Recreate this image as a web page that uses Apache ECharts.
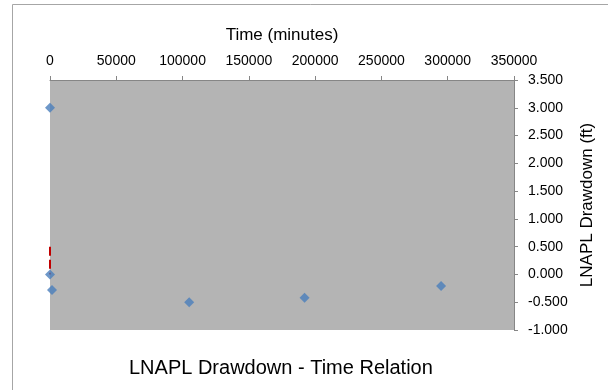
<!DOCTYPE html>
<html>
<head>
<meta charset="utf-8">
<script src="https://cdn.jsdelivr.net/npm/echarts@6/dist/echarts.min.js"></script>
<style>
html,body{margin:0;padding:0;background:#fff;}
#chart{width:608px;height:390px;}
</style>
</head>
<body>
<div id="chart"></div>
<script>
// Data
var timeMinutes = [0, 0, 1500, 105000, 192000, 295000];
var drawdownFt  = [3.0, 0.0, -0.28, -0.50, -0.42, -0.21];
var redLineTime = [0, 0];
var redLineDrawdown = [0.5, 0.0];
var xTicks = [0, 50000, 100000, 150000, 200000, 250000, 300000, 350000];
var yTicks = [-1.0, -0.5, 0.0, 0.5, 1.0, 1.5, 2.0, 2.5, 3.0, 3.5];
var chartTitle = 'LNAPL Drawdown - Time Relation';
var xTitle = 'Time (minutes)';
var yTitle = 'LNAPL Drawdown (ft)';

var FONT = "'Liberation Sans', Arial, sans-serif";
var pts = timeMinutes.map(function (t, i) { return [t, drawdownFt[i]]; });
var redPts = redLineTime.map(function (t, i) { return [t, redLineDrawdown[i]]; });

var chart = echarts.init(document.getElementById('chart'), null, {renderer: 'canvas'});
chart.setOption({
  backgroundColor: '#ffffff',
  animation: false,
  textStyle: {fontFamily: FONT},
  title: {
    text: chartTitle,
    left: 124, top: 353,
    textStyle: {fontFamily: FONT, fontSize: 20, fontWeight: 'normal', color: '#000'}
  },
  graphic: [{
    type: 'rect', silent: true, z: -1,
    shape: {x: 12.5, y: 4.5, width: 700, height: 500},
    style: {fill: 'none', stroke: '#a6a6a6', lineWidth: 1}
  }],
  grid: {
    left: 50, top: 80, width: 464, height: 250,
    show: true, backgroundColor: '#b4b4b4', borderWidth: 0
  },
  xAxis: {
    type: 'value', position: 'top',
    min: xTicks[0], max: xTicks[xTicks.length - 1], interval: xTicks[1] - xTicks[0],
    name: xTitle, nameLocation: 'middle', nameGap: 36,
    nameTextStyle: {fontFamily: FONT, fontSize: 17, color: '#000'},
    axisLine: {show: true, onZero: false, lineStyle: {color: '#868686', width: 1}},
    axisTick: {show: true, inside: false, length: 4, lineStyle: {color: '#868686'}},
    axisLabel: {
      fontFamily: FONT, fontSize: 14, color: '#000', margin: 12,
      formatter: function (v) { return String(v); }
    },
    splitLine: {show: false}
  },
  yAxis: {
    type: 'value', position: 'right',
    min: yTicks[0], max: yTicks[yTicks.length - 1], interval: yTicks[1] - yTicks[0],
    name: yTitle, nameLocation: 'middle', nameGap: 64, nameRotate: 90,
    nameTextStyle: {fontFamily: FONT, fontSize: 17, color: '#000'},
    axisLine: {show: true, onZero: false, lineStyle: {color: '#868686', width: 1}},
    axisTick: {show: true, inside: false, length: 4, lineStyle: {color: '#868686'}},
    axisLabel: {
      fontFamily: FONT, fontSize: 14, color: '#000', margin: 14,
      formatter: function (v) { return v.toFixed(3); }
    },
    splitLine: {show: false}
  },
  series: [
    {
      type: 'line', data: redPts, symbol: 'none', z: 2,
      lineStyle: {color: '#c00000', width: 2, type: [9, 4]}
    },
    {
      type: 'scatter', data: pts, symbol: 'diamond', symbolSize: 10, z: 3,
      itemStyle: {color: '#4a7ebb'}
    }
  ]
});
</script>
</body>
</html>
